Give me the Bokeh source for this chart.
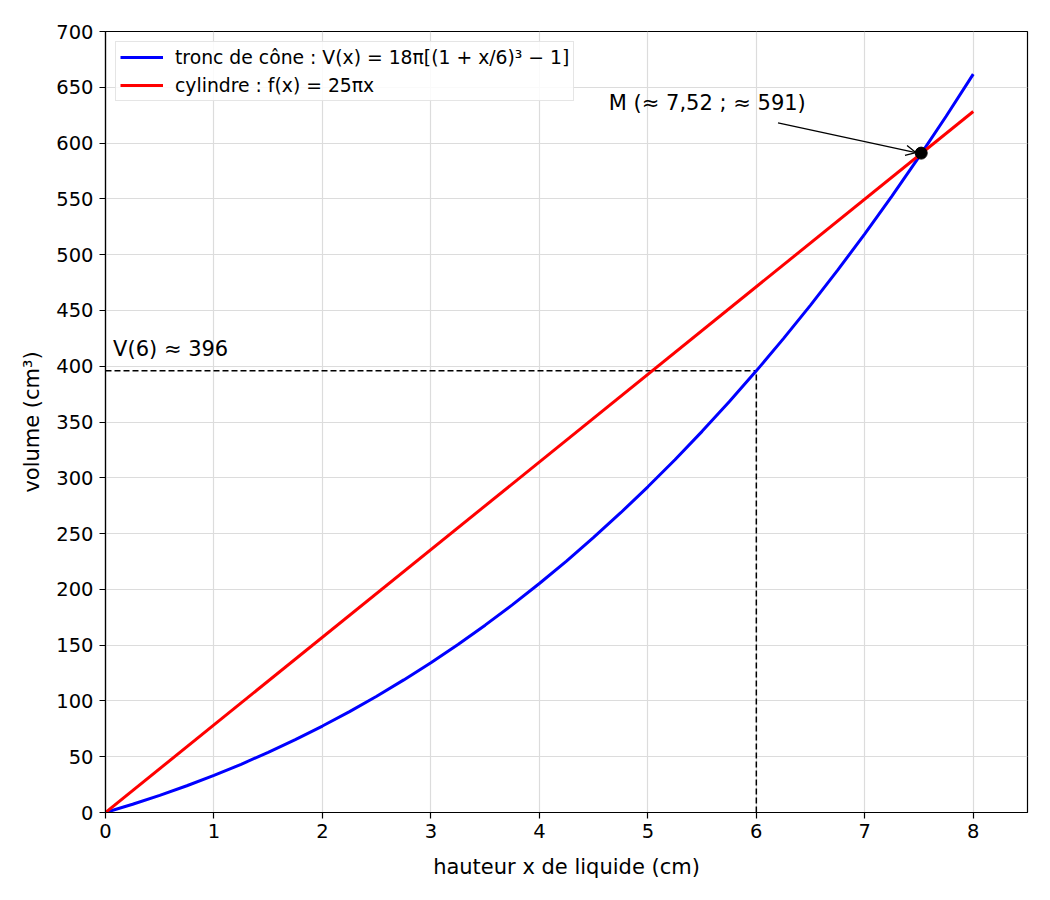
from bokeh.plotting import figure
from bokeh.models import Range1d, FixedTicker, Legend, LegendItem, Arrow, OpenHead, Label
from bokeh.embed import file_html
from bokeh.resources import INLINE

# ---- data ----
x_cone = [0, 0.25, 0.5, 0.75, 1, 1.25, 1.5, 1.75, 2, 2.25, 2.5, 2.75, 3, 3.25, 3.5, 3.75,
          4, 4.25, 4.5, 4.75, 5, 5.25, 5.5, 5.75, 6, 6.25, 6.5, 6.75, 7, 7.25, 7.5, 7.75, 8]
v_cone = [0, 7.37, 15.35, 23.97, 33.25, 43.22, 53.90, 65.32, 77.49, 90.46, 104.23, 118.84,
          134.30, 150.65, 167.91, 186.10, 205.25, 225.38, 246.52, 268.68, 291.91, 316.21,
          341.62, 368.16, 395.84, 424.71, 454.78, 486.08, 518.63, 552.45, 587.58, 624.03, 661.83]
x_cyl = [0, 8]
v_cyl = [0, 628.32]
x_ref = 6
v_ref = 395.84
m_x = 7.52
m_y = 591
x_ticks = [0, 1, 2, 3, 4, 5, 6, 7, 8]
y_ticks = list(range(0, 701, 50))

FONT = "DejaVu Sans"

p = figure(frame_width=922, frame_height=781, output_backend="svg", toolbar_location=None,
           x_range=Range1d(0, 8.5), y_range=Range1d(0, 700),
           min_border_left=105, min_border_top=31, min_border_right=15, min_border_bottom=80)
p.background_fill_color = "white"
p.border_fill_color = "white"
p.outline_line_color = "black"
p.outline_line_width = 1.2

for ax in (p.xaxis, p.yaxis):
    ax.major_label_text_font = FONT
    ax.major_label_text_font_size = "19.5px"
    ax.major_label_text_color = "black"
    ax.axis_label_text_font = FONT
    ax.axis_label_text_font_size = "21px"
    ax.axis_label_text_font_style = "normal"
    ax.axis_label_text_color = "black"
    ax.axis_line_color = "black"
    ax.axis_line_width = 1.2
    ax.major_tick_line_color = "black"
    ax.major_tick_line_width = 1.2
    ax.major_tick_out = 6
    ax.major_tick_in = 0
    ax.minor_tick_line_color = None
p.xaxis.ticker = FixedTicker(ticks=x_ticks)
p.yaxis.ticker = FixedTicker(ticks=y_ticks)
p.xaxis.axis_label = "hauteur x de liquide (cm)"
p.yaxis.axis_label = "volume (cm³)"
p.xaxis.major_label_standoff = 5
p.yaxis.major_label_standoff = 6
p.xaxis.axis_label_standoff = 14
p.yaxis.axis_label_standoff = 9

p.xgrid.ticker = FixedTicker(ticks=x_ticks)
p.ygrid.ticker = FixedTicker(ticks=y_ticks)
p.grid.grid_line_color = "#dcdcdc"
p.grid.grid_line_width = 1.2

# dashed reference lines
p.line([0, x_ref], [v_ref, v_ref], line_color="black", line_width=1.5, line_dash="6 3")
p.line([x_ref, x_ref], [0, v_ref], line_color="black", line_width=1.5, line_dash="6 3")

r_cone = p.line(x_cone, v_cone, line_color="#0000ff", line_width=3)
r_cyl = p.line(x_cyl, v_cyl, line_color="#ff0000", line_width=3)

p.scatter([m_x], [m_y], size=12, color="black")

p.add_layout(Arrow(end=OpenHead(size=10, line_color="black", line_width=1.3),
                   x_start=6.2, y_start=618, x_end=7.47, y_end=591.5,
                   line_color="black", line_width=1.3))
p.add_layout(Label(x=4.64, y=636, text="M (≈ 7,52 ; ≈ 591)", text_font=FONT,
                   text_font_size="21px", text_color="black", text_baseline="alphabetic"))
p.add_layout(Label(x=0.07, y=415, text="V(6) ≈ 396", text_font=FONT,
                   text_font_size="21px", text_color="black", text_baseline="alphabetic"))

legend = Legend(items=[
    LegendItem(label="tronc de cône : V(x) = 18π[(1 + x/6)³ − 1]", renderers=[r_cone]),
    LegendItem(label="cylindre : f(x) = 25πx", renderers=[r_cyl]),
], location="top_left")
legend.label_text_font = FONT
legend.label_text_font_size = "18.8px"
legend.label_text_color = "black"
legend.border_line_color = "#cccccc"
legend.border_line_width = 1
legend.background_fill_alpha = 0.85
legend.glyph_width = 43
legend.glyph_height = 22
legend.label_standoff = 12
legend.label_height = 22
legend.padding = 4
legend.spacing = 6
legend.margin = 10
p.add_layout(legend)

open("out.html", "w").write(file_html(p, INLINE))
